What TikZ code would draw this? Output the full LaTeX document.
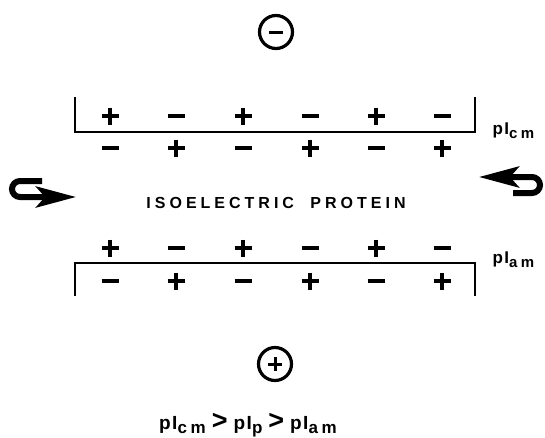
\documentclass[tikz,border=0pt]{standalone}
\usepackage{fontspec}
\setmainfont{Liberation Sans}
\newfontfamily\widefont{Liberation Sans}[LetterSpace=25]
\newfontfamily\labfont{Liberation Sans}[LetterSpace=22]
\usetikzlibrary{arrows.meta}
\newcommand{\pIsub}[1]{p\kern1.5pt I\raisebox{-0.4ex}{\fontsize{15}{15}\selectfont #1}}
\newcommand{\pIbig}[1]{p\kern1.5pt I\raisebox{-0.4ex}{\fontsize{17}{17}\selectfont #1}}
\newcommand{\gtsign}{\kern6pt{\fontsize{27}{27}\selectfont >}\kern6pt}
\tikzset{
  sign/.style={line width=4pt},
  plus/.pic={\draw[sign] (-8.5,0) -- (8.5,0) (0,-8.5) -- (0,8.5);},
  minus/.pic={\draw[sign] (-8.5,0) -- (8.5,0);},
  smallplus/.pic={\draw[line width=3pt] (-7,0) -- (7,0) (0,-7) -- (0,7);},
  smallminus/.pic={\draw[line width=3pt] (-7,0) -- (7,0);},
  bracket/.style={line width=2.8pt},
  pole/.style={circle, draw, line width=3.2pt, minimum size=33pt, inner sep=0pt},
  uarrow/.style={line width=6pt, -{Stealth[length=40pt, width=21pt, inset=9pt]}},
  lbl/.style={font=\labfont\bfseries\fontsize{17}{17}\selectfont, anchor=west},
}
\begin{document}
\begin{tikzpicture}[x=1pt, y=-1pt]
    \useasboundingbox (0,0) rectangle (545,437);

    % electrodes
    \node[pole] (cathode) at (276,32) {};
    \pic at (cathode) {smallminus};
    \node[pole] (anode) at (275,364) {};
    \pic at (anode) {smallplus};

    % membranes
    \draw[bracket] (75,97) -- (75,132) -- (475,132) -- (475,97);
    \draw[bracket] (75,296) -- (75,263) -- (475,263) -- (475,296);
    \node[lbl] (plcm) at (489,131) {\pIsub{cm}};
    \node[lbl] (plam) at (489,260) {\pIsub{am}};

    % charges
    \foreach \x/\s/\t in {110/plus/minus, 176/minus/plus, 243/plus/minus,
                          310/minus/plus, 376/plus/minus, 442/minus/plus} {
        \pic at (\x,116) {\s};
        \pic at (\x,148) {\t};
        \pic at (\x,248) {\s};
        \pic at (\x,281) {\t};
    }

    \node[font=\widefont\bfseries\fontsize{16}{16}\selectfont] (protein) at (276,203) {ISOELECTRIC\hspace{8pt} PROTEIN};

    % flow arrows
    \coordinate (lin) at (42,181);
    \coordinate (lout) at (76,197);
    \coordinate (rin) at (513,193);
    \coordinate (rout) at (479,177);
    \draw[uarrow] (lin) -- (20,181) arc[start angle=270, end angle=90, radius=8] -- (lout);
    \draw[uarrow] (rin) -- (532,193) arc[start angle=90, end angle=-90, radius=8] -- (rout);

    \node[font=\labfont\bfseries\fontsize{19}{19}\selectfont] (order) at (248,425)
        {\pIbig{cm}\gtsign\pIbig{p}\gtsign\pIbig{am}};
\end{tikzpicture}
\end{document}
